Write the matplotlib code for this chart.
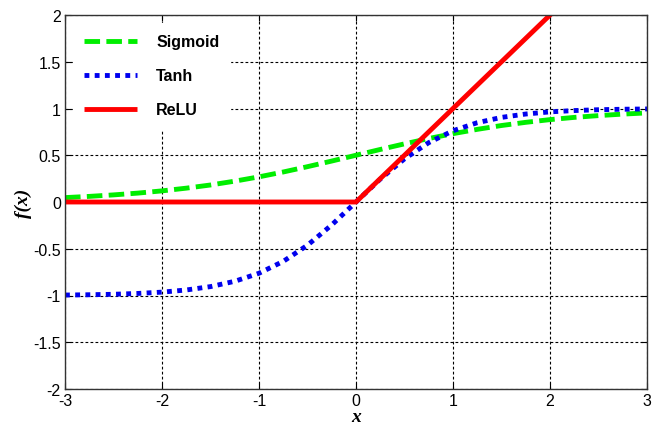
import numpy as np
import matplotlib
matplotlib.use('Agg')
import matplotlib.pyplot as plt
from matplotlib.ticker import FuncFormatter

plt.rcParams['font.family'] = ['Liberation Sans', 'DejaVu Sans']

# 그래프에서 읽은 값
x_vals = [-3.0, -2.75, -2.5, -2.25, -2.0, -1.75, -1.5, -1.25, -1.0, -0.75, -0.5, -0.25,
          0.0, 0.25, 0.5, 0.75, 1.0, 1.25, 1.5, 1.75, 2.0, 2.25, 2.5, 2.75, 3.0]
sigmoid_vals = [0.047, 0.060, 0.076, 0.095, 0.119, 0.148, 0.182, 0.223, 0.269, 0.321, 0.378, 0.438,
                0.500, 0.562, 0.622, 0.679, 0.731, 0.777, 0.818, 0.852, 0.881, 0.905, 0.924, 0.940, 0.953]
tanh_vals = [-0.995, -0.992, -0.987, -0.978, -0.964, -0.941, -0.905, -0.848, -0.762, -0.635, -0.462, -0.245,
             0.0, 0.245, 0.462, 0.635, 0.762, 0.848, 0.905, 0.941, 0.964, 0.978, 0.987, 0.992, 0.995]
relu_x = [-3.0, 0.0, 2.0, 3.0]
relu_vals = [0.0, 0.0, 2.0, 3.0]

x_ticks = [-3, -2, -1, 0, 1, 2, 3]
y_ticks = [-2, -1.5, -1, -0.5, 0, 0.5, 1, 1.5, 2]

fig = plt.figure(figsize=(6.57, 4.27), dpi=100)
ax = fig.add_axes([65 / 657, 1 - 390 / 427, (647 - 65) / 657, (390 - 16) / 427])

ax.plot(x_vals, sigmoid_vals, color='#00ee00', lw=3.5, linestyle=(0, (3.2, 1.3)), label='Sigmoid')
ax.plot(x_vals, tanh_vals, color='#0000ee', lw=3.5, linestyle=(0, (1, 1.1)), label='Tanh')
ax.plot(relu_x, relu_vals, color='#ff0000', lw=3.5, label='ReLU', solid_capstyle='butt')

ax.set_xlim(-3, 3)
ax.set_ylim(-2, 2)
ax.set_xticks(x_ticks)
ax.set_yticks(y_ticks)
ax.xaxis.set_major_formatter(FuncFormatter(lambda v, p: ('%g' % v)))
ax.yaxis.set_major_formatter(FuncFormatter(lambda v, p: ('%g' % v)))
ax.tick_params(direction='in', top=True, right=True, length=4, width=0.8, labelsize=11.5, pad=3)
ax.grid(True, color='black', linestyle=(0, (2.5, 2)), lw=0.8)
for s in ax.spines.values():
    s.set_color('#333333')
    s.set_linewidth(1.0)

ax.set_xlabel('x', fontsize=14, fontweight='bold', fontstyle='italic',
              family=['Liberation Serif', 'DejaVu Serif'], labelpad=0)
ax.set_ylabel('f(x)', fontsize=14, fontweight='bold', fontstyle='italic',
              family=['Liberation Serif', 'DejaVu Serif'], labelpad=1)

leg = ax.legend(loc='upper left', prop={'weight': 'bold', 'size': 11.5},
                frameon=True, fancybox=False, edgecolor='white', framealpha=1,
                handlelength=3.3, handletextpad=1.2, labelspacing=1.2,
                borderpad=0.7, borderaxespad=0.5)

plt.savefig('out.png', dpi=100)
